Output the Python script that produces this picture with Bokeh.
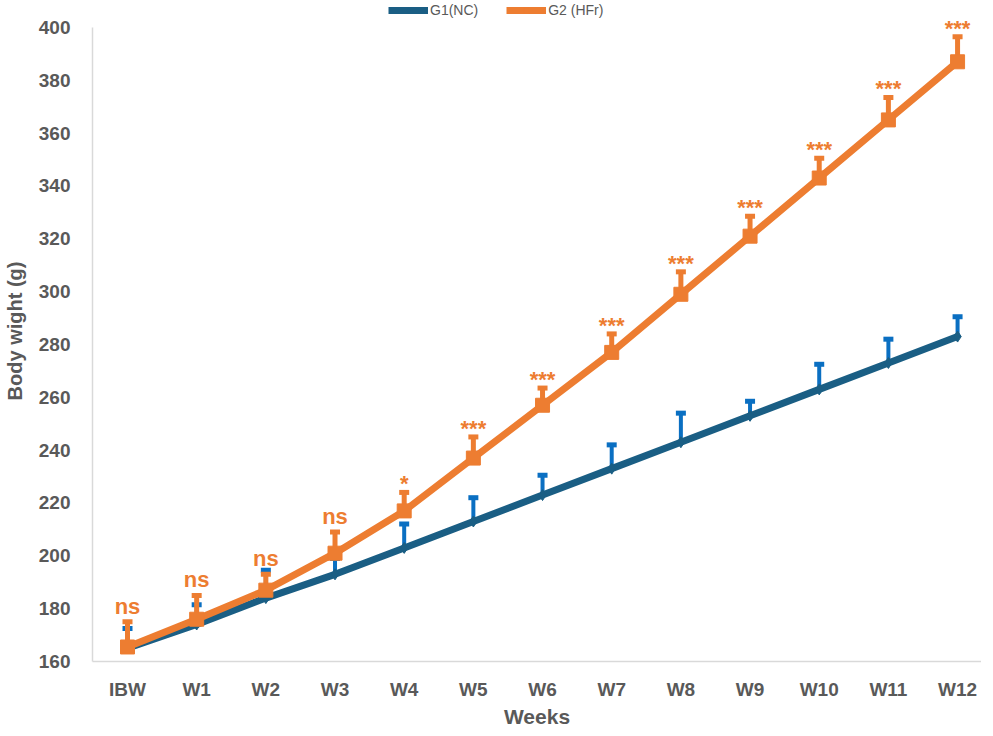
from bokeh.plotting import figure
from bokeh.models import (ColumnDataSource, Whisker, TeeHead, Legend, LegendItem,
                          FixedTicker, Range1d, LabelSet)
from bokeh.core.properties import value
from bokeh.embed import file_html
from bokeh.resources import INLINE

weeks = ["IBW", "W1", "W2", "W3", "W4", "W5", "W6", "W7", "W8", "W9", "W10", "W11", "W12"]
g1_mean = [165, 174, 184, 193, 203, 213, 223, 233, 243, 253, 263, 273, 283]
g1_upper = [172.5, 181.5, 194.5, 199, 212, 222, 230.5, 242, 254, 258.5, 272.5, 282, 290.5]
g2_mean = [165.5, 176, 187, 201, 217, 237, 257, 277, 299, 321, 343, 365, 387]
g2_upper = [175, 185, 193, 209, 224, 245, 263.5, 284, 307.5, 328.5, 350.5, 373.5, 396.5]
signif = ["ns", "ns", "ns", "ns", "*", "***", "***", "***", "***", "***", "***", "***", "***"]

xs = list(range(len(weeks)))
GRAY = "#595959"
BLUE_LINE = "#1A5E84"
BLUE_ERR = "#0A6FC2"
ORANGE = "#ED7D31"
FONT = "Liberation Sans"

p = figure(frame_width=889, frame_height=661, output_backend="svg", toolbar_location=None,
           x_range=Range1d(-0.506, 12.346), y_range=Range1d(160, 410.2),
           min_border_left=88, min_border_right=0, min_border_top=0, min_border_bottom=59)
p.outline_line_color = None
p.xgrid.grid_line_color = None
p.ygrid.grid_line_color = None

s1 = ColumnDataSource(dict(x=xs, y=g1_mean, up=g1_upper))
s2 = ColumnDataSource(dict(x=xs, y=g2_mean, up=g2_upper,
                           ns=[s if s == "ns" else "" for s in signif],
                           st=[s if s != "ns" else "" for s in signif]))

# blue series
l1 = p.line("x", "y", source=s1, line_color=BLUE_LINE, line_width=7)
w1 = Whisker(base="x", lower="y", upper="up", source=s1, line_color=BLUE_ERR, line_width=4,
             upper_head=TeeHead(size=10, line_color=BLUE_ERR, line_width=5), lower_head=None)
p.add_layout(w1)
m1 = p.scatter("x", "y", source=s1, marker="diamond", size=11, fill_color=BLUE_LINE,
               line_color=BLUE_LINE)

# orange series
l2 = p.line("x", "y", source=s2, line_color=ORANGE, line_width=7)
w2 = Whisker(base="x", lower="y", upper="up", source=s2, line_color=ORANGE, line_width=5,
             upper_head=TeeHead(size=10, line_color=ORANGE, line_width=5), lower_head=None)
p.add_layout(w2)
m2 = p.scatter("x", "y", source=s2, marker="square", size=14, fill_color=ORANGE,
               line_color=ORANGE)

lab_ns = LabelSet(x="x", y="up", text="ns", source=s2, text_color=ORANGE,
                  text_font=value(FONT), text_font_style="bold", text_font_size="22px",
                  text_align="center", text_baseline="bottom", y_offset=3)
lab_st = LabelSet(x="x", y="up", text="st", source=s2, text_color=ORANGE,
                  text_font=value(FONT), text_font_style="bold", text_font_size="22px",
                  text_align="center", text_baseline="bottom", y_offset=-4)
p.add_layout(lab_ns)
p.add_layout(lab_st)

# axes
p.xaxis.ticker = FixedTicker(ticks=xs)
p.xaxis.major_label_overrides = {i: w for i, w in enumerate(weeks)}
p.yaxis.ticker = FixedTicker(ticks=list(range(160, 401, 20)))
p.yaxis.bounds = (160, 400)
for ax in (p.xaxis[0], p.yaxis[0]):
    ax.axis_line_color = "#D9D9D9"
    ax.axis_line_width = 1.5
    ax.major_tick_line_color = None
    ax.minor_tick_line_color = None
    ax.major_label_text_color = GRAY
    ax.major_label_text_font = FONT
    ax.major_label_text_font_style = "bold"
    ax.major_label_text_font_size = "19px"
    ax.axis_label_text_color = GRAY
    ax.axis_label_text_font = FONT
    ax.axis_label_text_font_style = "bold"
p.xaxis.major_label_standoff = 11
p.yaxis.major_label_standoff = 16
p.xaxis.axis_label = "Weeks"
p.xaxis.axis_label_text_font_size = "21px"
p.xaxis.axis_label_standoff = 2
p.yaxis.axis_label = "Body wight (g)"
p.yaxis.axis_label_text_font_size = "20px"
p.yaxis.axis_label_standoff = 10

legend = Legend(items=[LegendItem(label="G1(NC)", renderers=[l1, m1]),
                       LegendItem(label="G2 (HFr)", renderers=[l2, m2])],
                location=(296, 643), orientation="horizontal",
                background_fill_alpha=0, border_line_color=None,
                label_text_font=FONT, label_text_font_size="14px", label_text_color=GRAY,
                glyph_width=40, glyph_height=14, label_standoff=2, spacing=28,
                padding=0, margin=0, label_height=14)
p.add_layout(legend, "center")

open("out.html", "w").write(file_html(p, INLINE))
